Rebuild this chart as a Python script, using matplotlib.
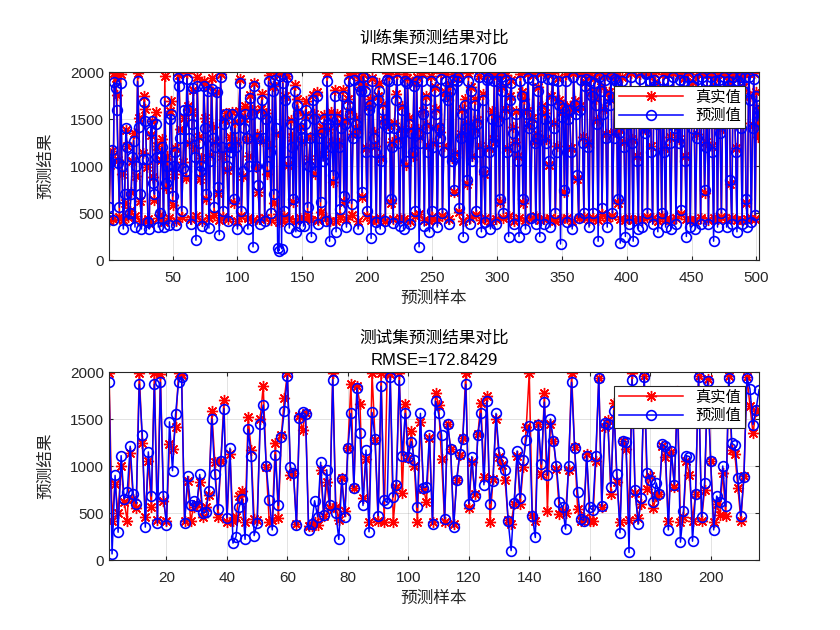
import numpy as np
import matplotlib
matplotlib.use("Agg")
import matplotlib.pyplot as plt

plt.rcParams['font.family'] = ['Liberation Sans', 'Noto Sans CJK SC', 'DejaVu Sans']
plt.rcParams['axes.unicode_minus'] = False

# ---- training set: true vs predicted ----
train_true = [
    410, 1010, 1160, 440, 1985, 1940, 1760, 1060, 460, 1975, 910, 425, 610, 1380, 1210, 455, 520, 720, 1050, 1350, 470, 890, 1990, 1510, 630,
    415, 1140, 1740, 1610, 990, 440, 395, 1330, 1480, 880, 640, 1570, 1210, 445, 480, 1060, 1290, 405, 1960, 770, 1110, 450, 1590, 1690, 590,
    910, 1190, 420, 1995, 1970, 1390, 455, 1040, 1510, 870, 1985, 1640, 1240, 440, 1570, 1810, 1190, 465, 1950, 1310, 860, 1090, 410, 1900, 1510,
    650, 1840, 445, 1120, 1940, 1410, 480, 1260, 1790, 710, 425, 1980, 1110, 460, 1490, 1560, 960, 440, 1310, 1200, 1570, 610, 1470, 1260, 420,
    1590, 1930, 470, 890, 1510, 1640, 1290, 445, 1110, 1760, 1600, 430, 1880, 990, 1340, 720, 435, 1610, 1770, 1270, 450, 1560, 920, 1970, 1210,
    425, 1850, 610, 1990, 1340, 490, 400, 1975, 410, 1990, 465, 1740, 1960, 1010, 440, 1490, 1310, 620, 1860, 415, 1710, 1590, 445, 1410, 1270,
    440, 1540, 1690, 470, 1070, 1310, 430, 1760, 1550, 910, 1790, 425, 1360, 510, 1410, 1120, 1540, 445, 1985, 1390, 420, 1570, 1260, 830, 1810,
    410, 1550, 1250, 455, 1460, 1810, 620, 1490, 440, 1710, 1970, 1590, 480, 1340, 1990, 1510, 1390, 420, 1910, 1840, 670, 1980, 1860, 1190, 465,
    1640, 1710, 430, 1940, 1360, 1210, 425, 1740, 1880, 450, 1090, 1660, 1490, 415, 1985, 1440, 1960, 610, 1260, 440, 1460, 1770, 1975, 1290, 445,
    1390, 1640, 435, 1980, 1010, 1940, 1510, 420, 1390, 1110, 1890, 470, 1945, 1390, 490, 1310, 1985, 1590, 430, 1750, 1440, 1210, 415, 1960, 455,
    1240, 1840, 1610, 425, 1420, 1360, 1990, 470, 1210, 1790, 1975, 1740, 440, 1860, 1090, 1980, 720, 1140, 1940, 1990, 510, 1340, 1610, 410, 1710,
    1440, 810, 1985, 445, 1840, 1110, 1390, 1710, 480, 1490, 1960, 1210, 425, 1770, 910, 445, 1990, 1970, 1190, 420, 1590, 1290, 1980, 440, 1960,
    1520, 620, 1985, 1840, 445, 1610, 1970, 1190, 465, 1740, 1920, 1410, 420, 1260, 1590, 1110, 445, 1980, 1790, 610, 1710, 425, 1590, 1985, 1440,
    450, 1510, 1970, 1270, 465, 1340, 1840, 430, 1990, 1640, 440, 1560, 1290, 1975, 1010, 445, 1740, 1985, 1460, 415, 1210, 1940, 1700, 440, 1570,
    1650, 720, 1980, 445, 1560, 1640, 1190, 420, 1990, 1690, 1610, 860, 450, 1640, 1975, 1310, 460, 1890, 1985, 1240, 425, 1970, 1790, 445, 1940,
    1710, 1490, 430, 1985, 1840, 490, 1610, 1970, 1340, 445, 1790, 1710, 1990, 465, 1360, 1980, 1960, 610, 1390, 440, 1945, 1790, 1260, 425, 1690,
    1510, 445, 1985, 1290, 425, 1790, 1710, 1110, 440, 1975, 1540, 430, 1660, 1390, 1990, 455, 1640, 1970, 1210, 445, 1985, 1890, 1510, 420, 1710,
    1540, 465, 1980, 1190, 440, 1760, 1975, 1310, 425, 1640, 1990, 1440, 445, 1510, 1290, 1970, 490, 1610, 1940, 1110, 440, 1985, 1690, 425, 1460,
    1890, 1610, 430, 1340, 1980, 1540, 445, 1975, 1790, 710, 1260, 1985, 425, 1660, 1970, 1210, 445, 1940, 1840, 440, 1990, 1390, 455, 1760, 1975,
    1590, 440, 1985, 1890, 810, 445, 1970, 1710, 1190, 430, 1940, 1985, 1460, 425, 1840, 1975, 610, 440, 1990, 1740, 445, 1440, 1985, 440, 1790, 1310, 1620,
]
train_pred = [
    560, 1040, 1170, 430, 1890, 1830, 1600, 1030, 560, 1880, 1000, 330, 700, 1400, 1200, 430, 500, 700, 1100, 1270, 350, 1000, 1900, 1420, 700,
    330, 1070, 1680, 1480, 1070, 400, 330, 1370, 1480, 820, 700, 1450, 1100, 350, 500, 1100, 1200, 350, 1690, 820, 1000, 370, 1500, 1550, 680,
    1000, 1150, 370, 1940, 1850, 1300, 520, 980, 1600, 950, 1930, 1600, 1300, 380, 1450, 1830, 1100, 210, 1850, 1250, 950, 1000, 360, 1850, 1400,
    700, 1800, 340, 1050, 1820, 1300, 560, 1200, 1790, 780, 270, 1950, 1200, 520, 1450, 1550, 1000, 410, 1200, 1150, 1550, 650, 1400, 1200, 330,
    1500, 1880, 520, 950, 1400, 1550, 1300, 330, 1000, 1720, 1550, 140, 1850, 1000, 1300, 800, 380, 1550, 1700, 1300, 420, 1500, 1000, 1900, 1150,
    500, 1800, 700, 1920, 1400, 130, 100, 1960, 120, 1880, 520, 1700, 1950, 1050, 340, 1450, 1200, 650, 1800, 300, 1650, 1550, 360, 1400, 1300,
    360, 1450, 1600, 560, 1000, 1300, 250, 1700, 1500, 950, 1750, 380, 1300, 620, 1350, 1050, 1500, 410, 1900, 1450, 200, 1500, 1200, 900, 1750,
    300, 1500, 1200, 540, 1400, 1750, 680, 1450, 350, 1650, 1900, 1550, 600, 1300, 1920, 1450, 1350, 330, 1850, 1800, 720, 1950, 1800, 1150, 520,
    1600, 1650, 230, 1900, 1300, 1150, 400, 1700, 1800, 330, 1050, 1600, 1450, 420, 1920, 1400, 1900, 650, 1200, 390, 1400, 1700, 1920, 1250, 360,
    1350, 1600, 330, 1900, 1050, 1880, 1450, 380, 1350, 1150, 1850, 520, 1900, 1350, 140, 1250, 1900, 1550, 360, 1700, 1400, 1150, 300, 1900, 520,
    1200, 1800, 1550, 350, 1400, 1300, 1930, 500, 1150, 1750, 1900, 1700, 380, 1800, 1050, 1920, 750, 1100, 1900, 1950, 550, 1300, 1550, 250, 1650,
    1400, 850, 1900, 380, 1800, 1050, 1350, 1650, 520, 1450, 1950, 1150, 300, 1700, 950, 400, 1920, 1940, 1150, 330, 1500, 1250, 1900, 380, 1900,
    1480, 650, 1950, 1800, 500, 1550, 1920, 1150, 250, 1700, 1880, 1350, 380, 1200, 1550, 1050, 250, 1900, 1750, 650, 1650, 330, 1550, 1940, 1400,
    450, 1450, 1920, 1250, 380, 1300, 1800, 250, 1950, 1600, 380, 1500, 1250, 1930, 1050, 350, 1700, 1920, 1400, 500, 1150, 1900, 1650, 170, 1520,
    1620, 750, 1900, 400, 1500, 1600, 1150, 330, 1950, 1650, 1550, 900, 450, 1600, 1920, 1250, 500, 1850, 1930, 1200, 350, 1900, 1750, 500, 1880,
    1650, 1450, 200, 1950, 1800, 550, 1550, 1920, 1300, 350, 1750, 1650, 1950, 500, 1300, 1930, 1900, 650, 1350, 180, 1900, 1750, 1200, 250, 1650,
    1450, 380, 1950, 1250, 200, 1750, 1650, 1050, 330, 1930, 1500, 350, 1600, 1350, 1980, 500, 1600, 1900, 1150, 380, 1920, 1850, 1450, 300, 1650,
    1500, 500, 1920, 1150, 350, 1700, 1900, 1250, 330, 1600, 1950, 1400, 380, 1450, 1250, 1920, 530, 1550, 1900, 1050, 250, 1950, 1650, 350, 1400,
    1850, 1550, 330, 1300, 1930, 1500, 380, 1950, 1750, 750, 1200, 1900, 380, 1600, 1950, 1150, 200, 1900, 1800, 350, 1920, 1350, 500, 1700, 1950,
    1550, 350, 1900, 1850, 850, 380, 1950, 1650, 1150, 300, 1900, 1950, 1400, 380, 1800, 1950, 650, 350, 1950, 1700, 400, 1400, 1930, 480, 1750, 1480, 1600,
]

# ---- test set: true vs predicted ----
test_true = [
    1990, 420, 810, 500, 1000, 620, 420, 1140, 650, 550, 1990, 1250, 460, 1050, 560, 1990, 430, 1980, 630, 420, 1230, 1180, 1420, 1990, 1970,
    410, 840, 420, 560, 600, 830, 460, 560, 690, 1580, 1040, 460, 1050, 1700, 400, 1130, 420, 460, 680, 730, 400, 1520, 1170, 440, 430, 1500,
    1850, 990, 400, 430, 1250, 450, 1330, 1720, 1990, 900, 930, 380, 1530, 1380, 1560, 360, 360, 400, 370, 960, 470, 830, 550, 1990, 560,
    430, 870, 520, 1190, 1870, 770, 1850, 1660, 660, 1070, 400, 1990, 1280, 410, 1990, 400, 1990, 1980, 400, 780, 1990, 710, 1660, 1080, 1370,
    1000, 400, 1470, 760, 620, 1300, 400, 1780,
    1650, 1070, 400, 1450, 1180, 380, 850, 1120, 1300, 1990, 550, 1040, 700, 1340, 1670, 880, 1750, 400, 860, 1500, 1100, 1010, 850, 430, 380,
    600, 1110, 600, 990, 1410, 1990, 480, 420, 1450, 910, 1780, 525, 1450, 1270, 970, 490, 520, 500, 960, 1990, 1200, 540, 420, 450, 1130,
    410, 410, 1050, 1940, 560, 1420, 1490, 700, 1670, 830, 400, 1270, 1180, 430, 1990, 710, 450, 600, 1960, 760, 890, 550, 680, 700, 1210,
    1100, 420, 1150, 780, 1800, 400, 460, 1050, 900, 420, 700, 1960, 420, 750, 1930, 1050, 400, 600, 480, 930, 470, 1960, 1170, 1130, 770,
    420, 890, 1950, 1640, 1350, 1580, 1600,
]
test_pred = [
    1890, 65, 900, 295, 1110, 650, 720, 1210, 700, 600, 1870, 1330, 350, 1150, 680, 1870, 390, 1890, 680, 370, 1470, 950, 1550, 1890, 1950,
    390, 890, 580, 630, 570, 910, 500, 510, 730, 1500, 910, 540, 1050, 1610, 450, 1190, 180, 250, 560, 650, 220, 1390, 1110, 260, 390, 1450,
    1650, 1000, 640, 320, 1120, 580, 1310, 1590, 1960, 990, 930, 370, 1510, 1570, 1550, 320, 380, 630, 460, 1040, 480, 960, 580, 1920, 500,
    220, 860, 460, 1190, 1560, 770, 1830, 1350, 580, 1170, 300, 1570, 1290, 470, 1850, 640, 610, 1950, 670, 800, 1910, 1110, 1560, 1100, 1260,
    1060, 560, 1560, 770, 780, 1330, 380, 1690,
    1560, 1330, 440, 1450, 1180, 350, 850, 1130, 1290, 1870, 600, 1100, 680, 1330, 1560, 800, 1690, 600, 840, 1560, 1150, 1050, 960, 420, 100,
    610, 1160, 660, 1060, 1280, 1430, 470, 240, 1440, 1020, 1680, 900, 1500, 1270, 1000, 620, 560, 330, 1000, 1890, 1190, 720, 440, 420, 1110,
    560, 530, 1110, 1940, 570, 1460, 1450, 780, 1590, 910, 290, 1270, 1260, 80, 1920, 750, 380, 660, 1950, 930, 850, 620, 820, 700, 1230,
    1210, 320, 1160, 800, 1720, 190, 520, 1110, 1100, 200, 700, 1950, 460, 820, 1900, 1050, 320, 680, 620, 1000, 570, 1940, 1240, 1220, 870,
    470, 880, 1940, 1820, 1440, 1600, 1810,
]

titles = ["训练集预测结果对比", "测试集预测结果对比"]
rmse_text = ["RMSE=146.1706", "RMSE=172.8429"]
xticks_list = [list(range(50, 501, 50)), list(range(20, 201, 20))]
yticks = [0, 500, 1000, 1500, 2000]

text_col = "#262626"

fig = plt.figure(figsize=(8.4, 6.3), dpi=100)
ax_train = fig.add_axes([0.1298, 0.5873, 0.7738, 0.2984])
ax_test = fig.add_axes([0.1298, 0.1111, 0.7738, 0.2984])

series = [(train_true, train_pred), (test_true, test_pred)]
for k, ax in enumerate([ax_train, ax_test]):
    t, p = series[k]
    xt = np.arange(1, len(t) + 1)
    xp = np.arange(1, len(p) + 1)
    # MATLAB-like asterisk (8 spokes) for true values, open circles for predictions
    ax.plot(xt, t, "-", color="red", marker=(8, 2, 0), markersize=8,
            markeredgewidth=1.0, linewidth=1.1, label="真实值")
    ax.plot(xp, p, "-", color="blue", marker="o", markersize=7, markerfacecolor="none",
            markeredgewidth=1.2, linewidth=1.1, label="预测值")
    n = max(len(t), len(p))
    ax.set_xlim(1, n)
    ax.set_ylim(0, 2000)
    ax.set_xticks(xticks_list[k])
    ax.set_yticks(yticks)
    ax.tick_params(direction="in", length=3, labelsize=11, colors=text_col,
                   top=True, right=True)
    ax.tick_params(axis="x", pad=8)
    ax.grid(True, color=text_col, alpha=0.15, linewidth=0.6)
    for s in ax.spines.values():
        s.set_color(text_col)
        s.set_linewidth(0.8)
    ax.set_xlabel("预测样本", fontsize=12, color=text_col, labelpad=4)
    ax.set_ylabel("预测结果", fontsize=12, color=text_col, labelpad=12)
    ax.set_title(titles[k] + "\n" + rmse_text[k], fontsize=12, color="black",
                 linespacing=1.6, pad=5)
    leg = ax.legend(loc="upper right", fontsize=11, handlelength=4.2,
                    fancybox=False, framealpha=1, edgecolor=text_col,
                    borderaxespad=0.9, borderpad=0.3, labelspacing=0.3)
    leg.get_frame().set_linewidth(0.8)

fig.savefig("out.png", dpi=100)
